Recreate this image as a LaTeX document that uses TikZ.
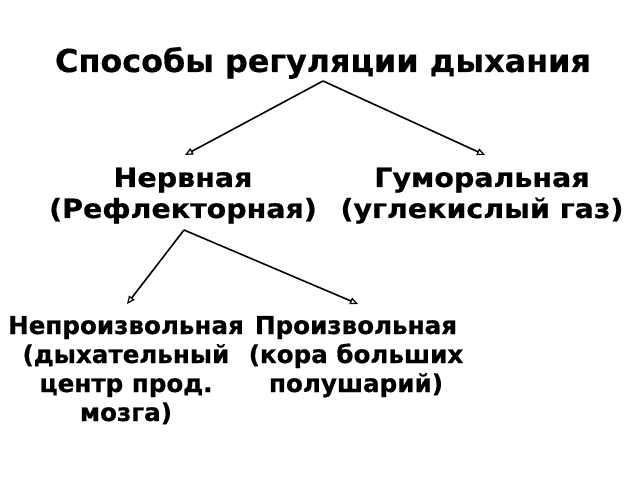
\documentclass[tikz,border=0pt]{standalone}
\usepackage{fontspec}
\setmainfont{DejaVu Sans}
\newfontfamily\titlefont[FakeStretch=1.01,FakeBold=0.6]{DejaVu Sans Bold}
\newfontfamily\midfont[FakeStretch=1.075,FakeBold=0.6]{DejaVu Sans Bold}
\newfontfamily\lowfont[FakeStretch=1.0,FakeBold=0.6]{DejaVu Sans Bold}
\usetikzlibrary{arrows.meta}
\begin{document}
\begin{tikzpicture}[x=1bp,y=-1bp,
  lbl/.style={inner sep=0pt, anchor=base},
  arr/.style={line width=1.6bp, -{Triangle[open,length=8bp,width=7bp,line width=1.2bp]}}]
\useasboundingbox[fill=white] (0,0) rectangle (640,480);
\node[lbl, font=\titlefont\fontsize{31.5bp}{37bp}\selectfont] (title) at (323,72) {Способы регуляции дыхания};
\node[lbl, font=\midfont\fontsize{26.5bp}{31bp}\selectfont] (nerv) at (183,187)
  {\begin{tabular}[t]{@{}c@{}}Нервная\\(Рефлекторная)\end{tabular}};
\node[lbl, font=\midfont\fontsize{26.5bp}{31bp}\selectfont] (hum) at (482,187)
  {\begin{tabular}[t]{@{}c@{}}Гуморальная\\(углекислый газ)\end{tabular}};
\node[lbl, font=\lowfont\fontsize{24.6bp}{29bp}\selectfont] (invol) at (126,334)
  {\begin{tabular}[t]{@{}c@{}}Непроизвольная\\(дыхательный\\центр прод.\\мозга)\end{tabular}};
\node[lbl, font=\lowfont\fontsize{24.6bp}{29bp}\selectfont] (vol) at (356,334)
  {\begin{tabular}[t]{@{}c@{}}Произвольная\\(кора больших\\полушарий)\end{tabular}};
\coordinate (a1) at (323,81);
\coordinate (t1) at (185,155);
\coordinate (t2) at (485,155);
\coordinate (a2) at (184,230);
\coordinate (t3) at (127,304);
\coordinate (t4) at (358,304);
\draw[arr] (a1) -- (t1);
\draw[arr] (a1) -- (t2);
\draw[arr] (a2) -- (t3);
\draw[arr] (a2) -- (t4);
\end{tikzpicture}
\end{document}
